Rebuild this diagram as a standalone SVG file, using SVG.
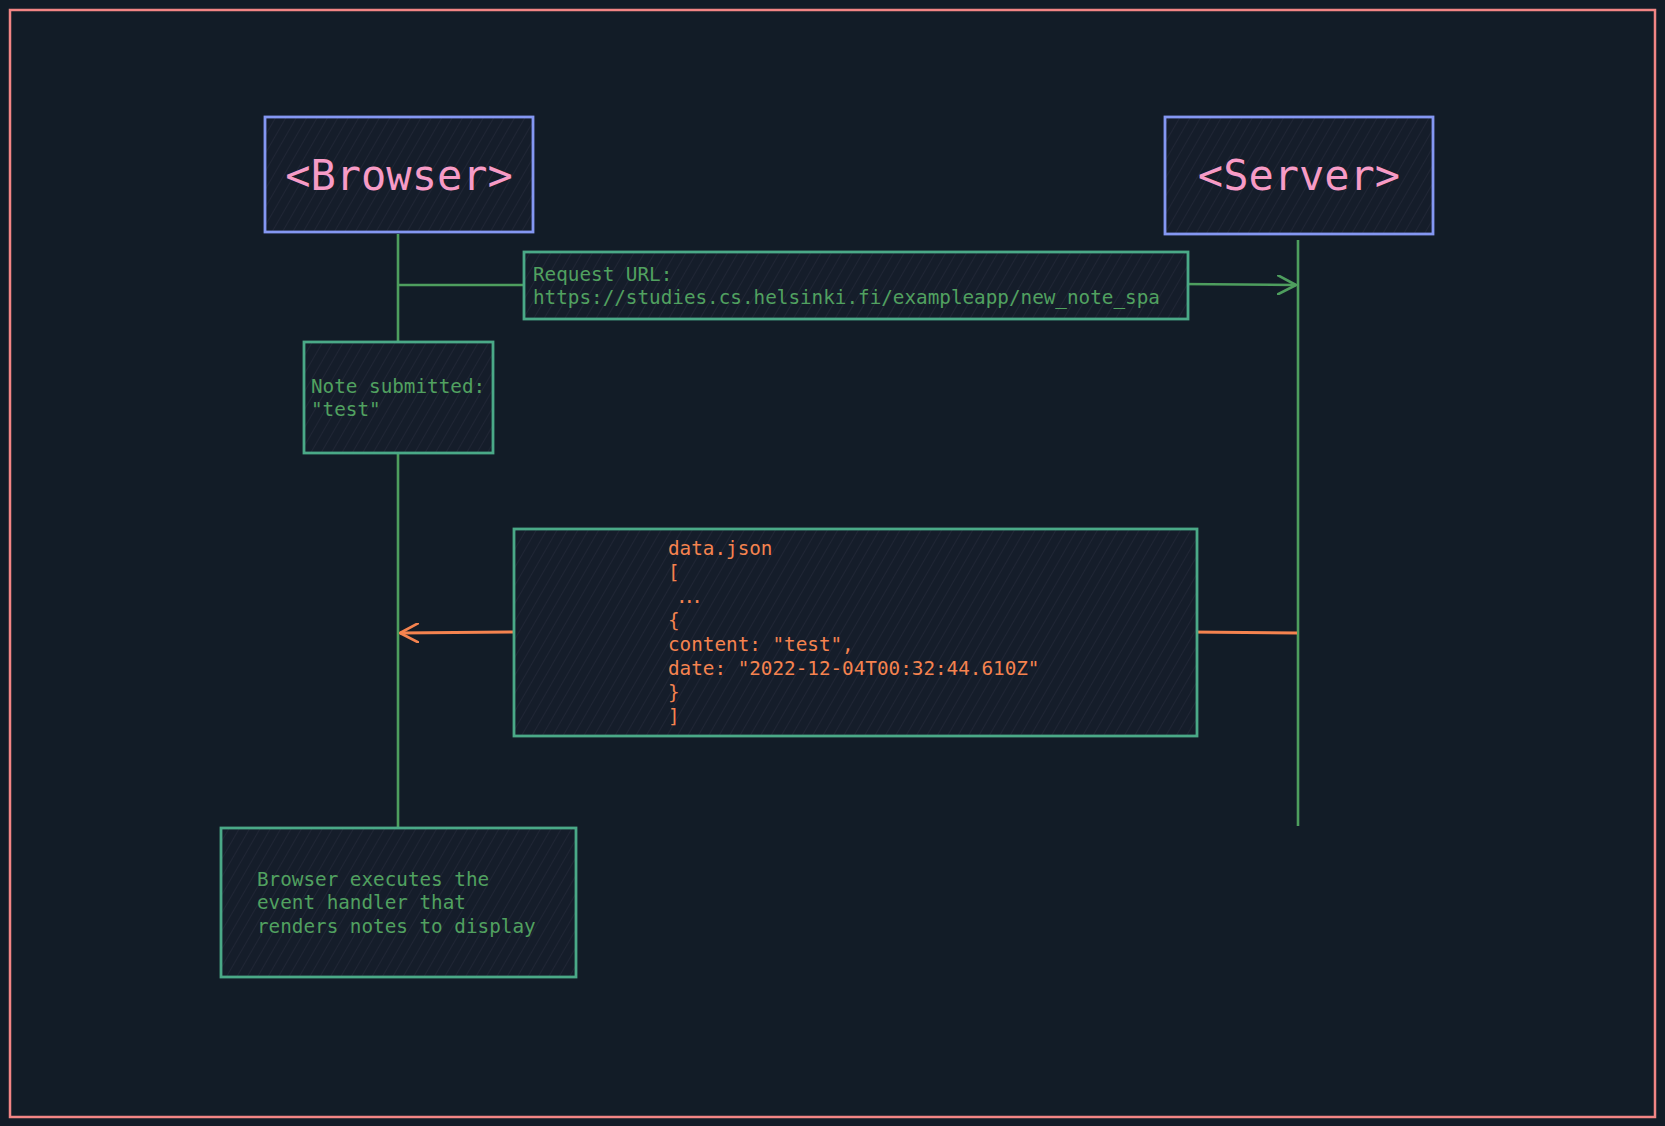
<svg xmlns="http://www.w3.org/2000/svg" width="1665" height="1126" viewBox="0 0 1665 1126">
<defs>
<pattern id="hatch" patternUnits="userSpaceOnUse" width="9" height="9" patternTransform="rotate(30)">
<rect width="9" height="9" fill="#151d2a"/>
<line x1="0" y1="0" x2="0" y2="9" stroke="#262a3b" stroke-width="1.3"/>
</pattern>
<marker id="open" viewBox="0 0 20 20" refX="19" refY="10" markerWidth="20" markerHeight="20" markerUnits="userSpaceOnUse" orient="auto">
<path d="M0,0 L19,10 L0,20" fill="none" stroke="context-stroke" stroke-width="2.6" stroke-linecap="round" stroke-linejoin="round"/>
</marker>
</defs>
<style>
.actor{fill:url(#hatch);stroke:#8497f2;stroke-width:2.8}
.note{fill:url(#hatch);stroke:#4aa987;stroke-width:2.8}
.life{stroke:#4e9e5e;stroke-width:2.6;fill:none}
.ttl{font-family:"DejaVu Sans Mono","Liberation Mono",monospace;font-size:42px;fill:#f79bc6}
.g{font-family:"DejaVu Sans Mono","Liberation Mono",monospace;font-size:19.3px;fill:#51a160}
.o{font-family:"DejaVu Sans Mono","Liberation Mono",monospace;font-size:19.3px;fill:#f5834f}
</style>
<rect width="1665" height="1126" fill="#121c27"/>
<rect x="10" y="10" width="1645" height="1107" fill="none" stroke="#f28585" stroke-width="2.5"/>

<g id="connectors">
<line class="life" x1="398" y1="234" x2="398" y2="342"/>
<line class="life" x1="398" y1="453" x2="398" y2="832"/>
<line class="life" x1="1298" y1="240" x2="1298" y2="826"/>
<line class="life" x1="398" y1="285" x2="528" y2="285"/>
<path class="life" d="M1180,284 L1296,285" marker-end="url(#open)"/>
<line x1="1297" y1="633" x2="1190" y2="632" stroke="#f5834f" stroke-width="3"/>
<path d="M514,632 L400,633" fill="none" stroke="#f5834f" stroke-width="3" marker-end="url(#open)"/>
</g>

<g id="browser">
<rect class="actor" x="265" y="117" width="268" height="115"/>
<text class="ttl" x="399" y="190" text-anchor="middle">&lt;Browser&gt;</text>
</g>

<g id="server">
<rect class="actor" x="1165" y="117" width="268" height="117"/>
<text class="ttl" x="1299" y="190" text-anchor="middle">&lt;Server&gt;</text>
</g>

<g id="request">
<rect class="note" x="524" y="252" width="664" height="67"/>
<text class="g" x="533" y="281">Request URL:</text>
<text class="g" x="533" y="304">https://studies.cs.helsinki.fi/exampleapp/new_note_spa</text>
</g>

<g id="note-submitted">
<rect class="note" x="304" y="342" width="189" height="111"/>
<text class="g" x="311" y="393">Note submitted:</text>
<text class="g" x="311" y="416">"test"</text>
</g>

<g id="data-json">
<rect class="note" x="514" y="529" width="683" height="207"/>
<text class="o" x="668" y="555">data.json</text>
<text class="o" x="668" y="579">[</text>
<text class="o" x="676" y="603" style="letter-spacing:-4px">...</text>
<text class="o" x="668" y="627">{</text>
<text class="o" x="668" y="651">content: "test",</text>
<text class="o" x="668" y="675">date: "2022-12-04T00:32:44.610Z"</text>
<text class="o" x="668" y="699">}</text>
<text class="o" x="668" y="723">]</text>
</g>

<g id="render">
<rect class="note" x="221" y="828" width="355" height="149"/>
<text class="g" x="257" y="886">Browser executes the</text>
<text class="g" x="257" y="909">event handler that</text>
<text class="g" x="257" y="933">renders notes to display</text>
</g>
</svg>
